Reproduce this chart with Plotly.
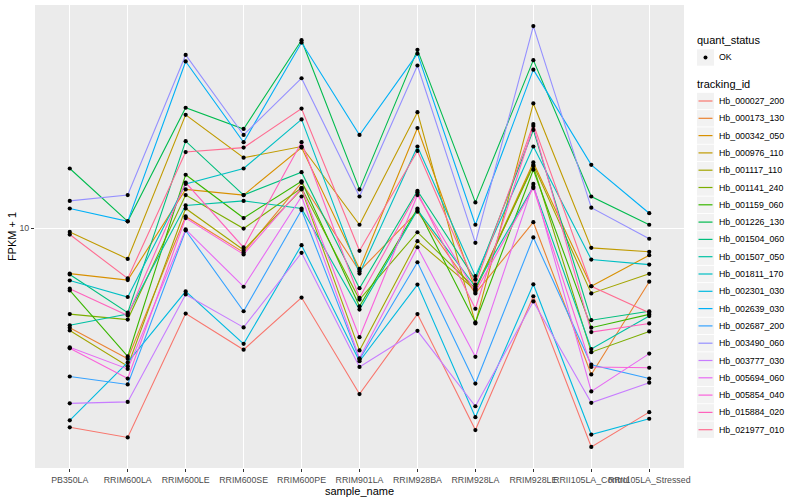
import math
import plotly.graph_objects as go

samples = ["PB350LA", "RRIM600LA", "RRIM600LE", "RRIM600SE", "RRIM600PE",
           "RRIM901LA", "RRIM928BA", "RRIM928LA", "RRIM928LE",
           "RRII105LA_Control", "RRII105LA_Stressed"]

tracking_ids = ["Hb_000027_200", "Hb_000173_130", "Hb_000342_050", "Hb_000976_110",
                "Hb_001117_110", "Hb_001141_240", "Hb_001159_060", "Hb_001226_130",
                "Hb_001504_060", "Hb_001507_050", "Hb_001811_170", "Hb_002301_030",
                "Hb_002639_030", "Hb_002687_200", "Hb_003490_060", "Hb_003777_030",
                "Hb_005694_060", "Hb_005854_040", "Hb_015884_020", "Hb_021977_010"]

colors = ["#F8766D", "#EA8331", "#D89000", "#C09B00", "#A3A500", "#7CAE00",
          "#39B600", "#00BB4E", "#00BF7D", "#00C1A3", "#00BFC4", "#00BAE0",
          "#00B0F6", "#35A2FF", "#9590FF", "#C77CFF", "#E76BF3", "#FA62DB",
          "#FF62BC", "#FF6C91"]

# FPKM + 1 per sample (same order as `samples`)
Hb_000027_200 = [3.18, 3.00, 6.12, 4.97, 6.71, 3.85, 6.10, 3.13, 6.76, 2.84, 3.47]
Hb_000173_130 = [5.64, 4.72, 10.7, 8.70, 13.0, 7.81, 11.0, 6.87, 10.35, 4.31, 7.35]
Hb_000342_050 = [7.70, 7.42, 12.5, 12.1, 15.9, 7.91, 17.8, 7.03, 14.6, 7.16, 8.56]
Hb_000976_110 = [9.79, 8.38, 19.2, 15.0, 16.0, 10.2, 19.5, 5.78, 20.5, 8.93, 8.73]
Hb_001117_110 = [5.55, 4.52, 11.2, 8.82, 12.5, 4.95, 9.28, 7.00, 14.4, 6.87, 7.69]
Hb_001141_240 = [6.10, 5.91, 12.1, 9.98, 12.6, 6.63, 9.77, 7.07, 14.3, 4.90, 5.52]
Hb_001159_060 = [6.99, 4.78, 13.6, 10.6, 13.1, 6.38, 11.2, 5.82, 14.0, 5.64, 6.09]
Hb_001226_130 = [14.1, 10.4, 20.0, 17.7, 29.5, 12.5, 27.9, 11.6, 26.3, 12.0, 10.2]
Hb_001504_060 = [7.66, 6.15, 16.5, 12.1, 13.8, 7.08, 12.4, 7.44, 17.6, 5.89, 6.20]
Hb_001507_050 = [5.72, 6.10, 11.4, 11.7, 11.2, 6.26, 11.1, 7.14, 12.7, 4.99, 6.03]
Hb_001811_170 = [7.40, 6.73, 12.9, 14.1, 18.7, 7.70, 16.0, 7.59, 16.0, 8.35, 8.11]
Hb_002301_030 = [3.31, 4.62, 6.95, 5.14, 9.07, 4.65, 7.23, 3.37, 7.24, 3.05, 3.34]
Hb_002639_030 = [11.2, 10.4, 26.1, 16.4, 29.1, 17.1, 27.3, 10.2, 24.9, 14.4, 10.9]
Hb_002687_200 = [4.26, 4.07, 9.87, 6.20, 11.1, 4.70, 8.22, 4.09, 9.48, 4.56, 4.21]
Hb_003490_060 = [11.7, 12.1, 27.1, 17.1, 23.7, 12.0, 25.5, 9.19, 32.0, 11.25, 9.41]
Hb_003777_030 = [3.65, 3.68, 6.83, 5.65, 8.68, 4.50, 5.54, 3.59, 6.56, 3.66, 4.11]
Hb_005694_060 = [5.04, 4.45, 9.93, 7.14, 12.0, 4.73, 8.96, 4.77, 12.9, 3.91, 4.86]
Hb_005854_040 = [5.01, 4.21, 10.6, 8.60, 12.6, 5.34, 12.1, 6.93, 12.6, 4.50, 4.48]
Hb_015884_020 = [7.06, 6.05, 13.0, 8.95, 16.4, 6.70, 12.3, 6.29, 18.0, 5.50, 5.78]
Hb_021977_010 = [9.64, 7.49, 15.5, 15.9, 19.9, 8.78, 15.6, 7.23, 18.2, 7.16, 6.15]

series = [Hb_000027_200, Hb_000173_130, Hb_000342_050, Hb_000976_110, Hb_001117_110,
          Hb_001141_240, Hb_001159_060, Hb_001226_130, Hb_001504_060, Hb_001507_050,
          Hb_001811_170, Hb_002301_030, Hb_002639_030, Hb_002687_200, Hb_003490_060,
          Hb_003777_030, Hb_005694_060, Hb_005854_040, Hb_015884_020, Hb_021977_010]

quant_status = "OK"

FONT = "Liberation Sans, Arial, Helvetica, sans-serif"

fig = go.Figure()
for tid, vals, col in zip(tracking_ids, series, colors):
    fig.add_trace(go.Scatter(x=samples, y=vals, mode="lines", name=tid,
                             line=dict(color=col, width=1.1), showlegend=False))
for tid, vals in zip(tracking_ids, series):
    fig.add_trace(go.Scatter(x=samples, y=vals, mode="markers", name=tid,
                             marker=dict(color="black", size=4.2),
                             showlegend=False))

# ggplot-like 5% expansion on log scale
all_vals = [v for s in series for v in s]
lo, hi = math.log10(min(all_vals)), math.log10(max(all_vals))
pad = 0.05 * (hi - lo)

# plot area in pixels
L, R, T, B = 35, 684, 5, 468
W, H = 800, 500

def px_x(p):
    return (p - L) / (R - L)

def px_y(p):
    return (B - p) / (B - T)

shapes = []
annotations = []

def add_text(text, xp, yp, size, color="black"):
    annotations.append(dict(text=text, x=px_x(xp), y=px_y(yp), xref="paper", yref="paper",
                            xanchor="left", yanchor="middle", showarrow=False,
                            font=dict(family=FONT, size=size, color=color)))

# legend: quant_status
add_text("quant_status", 695, 40.5, 11)
kx0, kx1 = 697, 714
shapes.append(dict(type="rect", xref="paper", yref="paper",
                   x0=px_x(kx0), x1=px_x(kx1), y0=px_y(49.3), y1=px_y(65.7),
                   fillcolor="#F2F2F2", line=dict(width=0)))
shapes.append(dict(type="circle", xref="paper", yref="paper",
                   x0=px_x(703.5), x1=px_x(707.5), y0=px_y(55.5), y1=px_y(59.5),
                   fillcolor="black", line=dict(width=0)))
add_text(quant_status, 717, 57.5, 8.8)

# legend: tracking_id
add_text("tracking_id", 695, 84.5, 11)
step = 17.3
for i, (tid, col) in enumerate(zip(tracking_ids, colors)):
    cy = 101 + i * step
    shapes.append(dict(type="rect", xref="paper", yref="paper",
                       x0=px_x(kx0), x1=px_x(kx1), y0=px_y(cy - 8.2), y1=px_y(cy + 8.2),
                       fillcolor="#F2F2F2", line=dict(width=0)))
    shapes.append(dict(type="line", xref="paper", yref="paper",
                       x0=px_x(698.5), x1=px_x(712.5), y0=px_y(cy), y1=px_y(cy),
                       line=dict(color=col, width=1.2)))
    add_text(tid, 717, cy, 8.8)

fig.update_layout(
    width=W, height=H,
    margin=dict(l=L, r=W - R, t=T, b=H - B, pad=0),
    plot_bgcolor="#EBEBEB", paper_bgcolor="white",
    font=dict(family=FONT, size=11, color="black"),
    showlegend=False,
    shapes=shapes, annotations=annotations,
    xaxis=dict(type="category", range=[-0.6, len(samples) - 0.4],
               showgrid=True, gridcolor="white", gridwidth=1.1, zeroline=False,
               ticks="outside", ticklen=3, tickcolor="#333333", tickwidth=1,
               tickangle=0, tickfont=dict(family=FONT, size=8.8, color="#4D4D4D"),
               title=dict(text="sample_name", standoff=0,
                          font=dict(family=FONT, size=11, color="black")),
               automargin=False, showline=False),
    yaxis=dict(type="log", range=[lo - pad, hi + pad],
               tickvals=[10], ticktext=["10"],
               showgrid=True, gridcolor="white", gridwidth=1.1, zeroline=False,
               ticks="outside", ticklen=3, tickcolor="#333333", tickwidth=1,
               tickfont=dict(family=FONT, size=8.8, color="#4D4D4D"),
               title=dict(text="FPKM + 1", standoff=0,
                          font=dict(family=FONT, size=11, color="black")),
               automargin=False, showline=False),
)

fig.write_html("out.html",
               config={"displayModeBar": False},
               post_script="document.body.style.margin='0px';document.body.style.overflow='hidden';")
